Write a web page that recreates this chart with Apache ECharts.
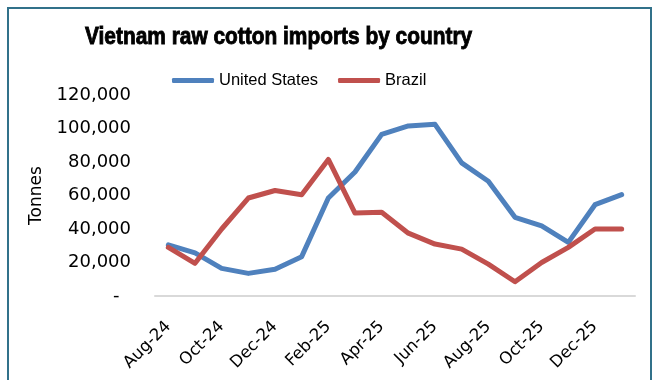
<!DOCTYPE html>
<html>
<head>
<meta charset="utf-8">
<script src="https://cdn.jsdelivr.net/npm/echarts@6/dist/echarts.min.js"></script>
<style>
  html, body { margin: 0; padding: 0; background: #fff; }
  #chart { width: 652px; height: 380px; }
</style>
</head>
<body>
<div id="chart"></div>
<script>
// Monthly raw cotton imports into Vietnam, tonnes
const months = ['Aug-24','Sep-24','Oct-24','Nov-24','Dec-24','Jan-25','Feb-25','Mar-25','Apr-25',
                'May-25','Jun-25','Jul-25','Aug-25','Sep-25','Oct-25','Nov-25','Dec-25','Jan-26'];
const unitedStates = [30500, 25800, 16500, 13500, 16000, 23500, 58500, 74000, 96500,
                      101500, 102500, 79500, 68500, 47000, 41800, 32000, 54500, 60500];
const brazil = [29000, 19500, 40000, 58500, 63000, 60500, 81500, 49500, 50000,
                37500, 31000, 28000, 19000, 8500, 20000, 29000, 40000, 40000];
const yTicks = { min: 0, max: 120000, interval: 20000 };
const chartTitle = 'Vietnam raw cotton imports by country';

const chart = echarts.init(document.getElementById('chart'));
const fmt = v => v === 0 ? '-  ' : v.toLocaleString('en-US');

chart.setOption({
  backgroundColor: '#fff',
  animation: false,
  legend: {
    left: 167, top: 67,
    itemWidth: 42, itemHeight: 5, itemGap: 20,
    icon: 'roundRect',
    textStyle: { fontFamily: '"Liberation Sans", Arial, sans-serif', fontSize: 16.5, color: '#000' },
    data: ['United States', 'Brazil']
  },
  grid: { left: 155, right: 17, top: 95, bottom: 84 },
  xAxis: {
    type: 'category',
    data: months,
    boundaryGap: true,
    axisLine: { lineStyle: { color: '#D9D9D9', width: 2 } },
    axisTick: { show: false },
    axisLabel: { interval: 1, rotate: 45, margin: 28, color: '#000', fontSize: 16.5, fontFamily: 'DejaVu Sans' }
  },
  yAxis: {
    type: 'value',
    min: yTicks.min, max: yTicks.max, interval: yTicks.interval,
    name: 'Tonnes', nameLocation: 'middle', nameGap: 110,
    nameTextStyle: { color: '#000', fontSize: 17, fontFamily: 'DejaVu Sans' },
    axisLine: { show: false },
    axisTick: { show: false },
    splitLine: { show: false },
    axisLabel: { formatter: fmt, margin: 24, color: '#000', fontSize: 18, fontFamily: 'DejaVu Sans' }
  },
  series: [
    { name: 'United States', type: 'line', data: unitedStates, symbol: 'none', color: '#4F81BD',
      lineStyle: { width: 5, cap: 'round', join: 'round' } },
    { name: 'Brazil', type: 'line', data: brazil, symbol: 'none', color: '#C0504D',
      lineStyle: { width: 5, cap: 'round', join: 'round' } }
  ],
  graphic: [
    {
      // condensed heavy heading
      type: 'text', silent: true,
      x: 85, y: 37, scaleX: 0.87,
      style: {
        text: chartTitle,
        fontFamily: '"Liberation Sans", Arial, sans-serif', fontWeight: 'bold', fontSize: 24,
        fill: '#000', stroke: '#000', lineWidth: 0.9,
        textAlign: 'left', textVerticalAlign: 'middle'
      }
    },
    {
      type: 'rect', silent: true,
      shape: { x: 8, y: 8, width: 643, height: 400 },
      style: { fill: 'none', stroke: '#31718A', lineWidth: 2 }
    }
  ]
});
</script>
</body>
</html>
